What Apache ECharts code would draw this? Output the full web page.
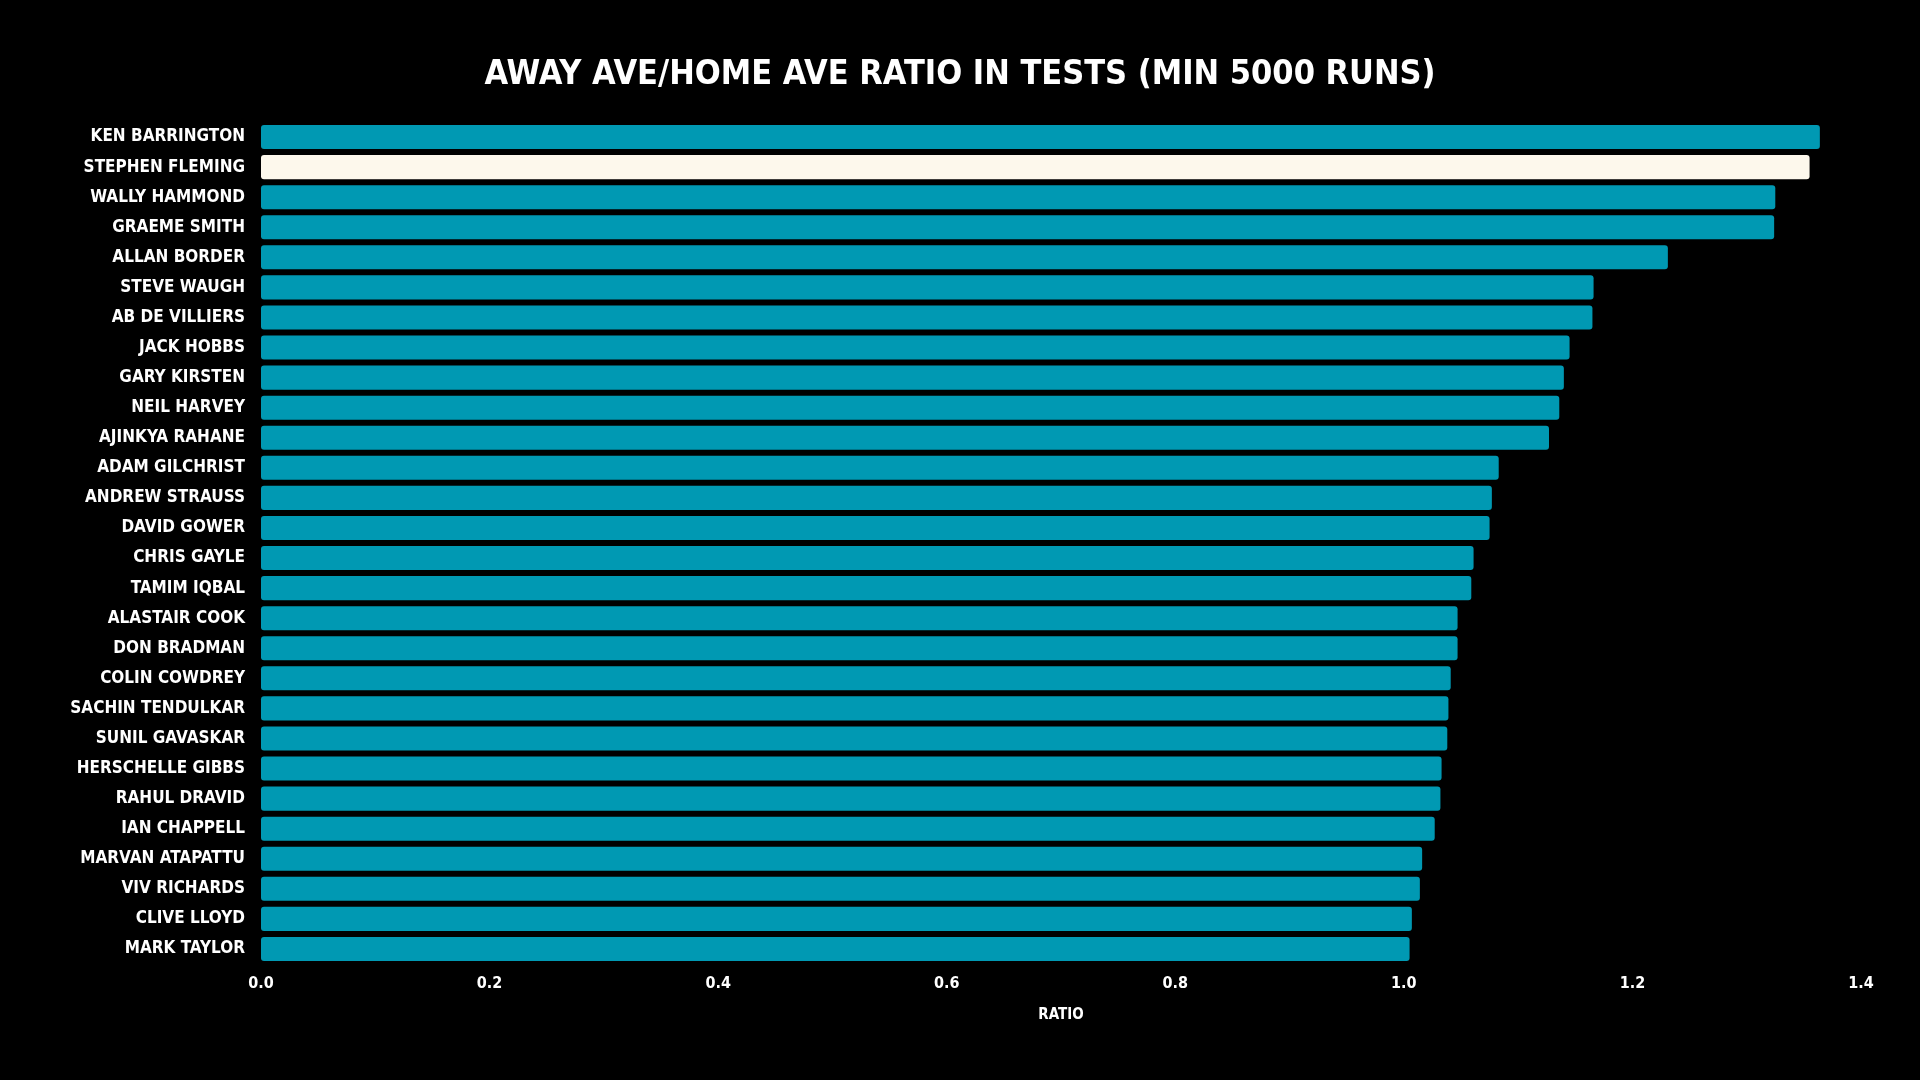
<!DOCTYPE html>
<html>
<head>
<meta charset="utf-8">
<title>Away/Home ratio</title>
<script src="https://cdn.jsdelivr.net/npm/echarts@6/dist/echarts.min.js"></script>
<style>
  html, body { margin: 0; padding: 0; background: #000; }
  #chart { width: 1920px; height: 1080px; }
</style>
</head>
<body>
<div id="chart"></div>
<script>
// players, top to bottom
const players = [
    'KEN BARRINGTON', 'STEPHEN FLEMING', 'WALLY HAMMOND', 'GRAEME SMITH', 'ALLAN BORDER',
    'STEVE WAUGH', 'AB DE VILLIERS', 'JACK HOBBS', 'GARY KIRSTEN', 'NEIL HARVEY',
    'AJINKYA RAHANE', 'ADAM GILCHRIST', 'ANDREW STRAUSS', 'DAVID GOWER', 'CHRIS GAYLE',
    'TAMIM IQBAL', 'ALASTAIR COOK', 'DON BRADMAN', 'COLIN COWDREY', 'SACHIN TENDULKAR',
    'SUNIL GAVASKAR', 'HERSCHELLE GIBBS', 'RAHUL DRAVID', 'IAN CHAPPELL', 'MARVAN ATAPATTU',
    'VIV RICHARDS', 'CLIVE LLOYD', 'MARK TAYLOR'
];
// away average / home average
const ratios = [
    1.364, 1.355, 1.325, 1.324, 1.231,
    1.166, 1.165, 1.145, 1.140, 1.136,
    1.127, 1.083, 1.077, 1.075, 1.061,
    1.059, 1.047, 1.047, 1.041, 1.039,
    1.038, 1.033, 1.032, 1.027, 1.016,
    1.014, 1.007, 1.005
];
const highlight = 'STEPHEN FLEMING';
const xTicks = [0, 1.4, 0.2]; // min, max, interval

const tealColor = '#0099b3';
const creamColor = '#fdf8ec';
const font = '"DejaVu Sans Condensed", "Liberation Sans Narrow", "Roboto", sans-serif';

var myChart = echarts.init(document.getElementById('chart'));

const options = {
    backgroundColor: '#000',
    animation: false,
    title: {
        text: 'AWAY AVE/HOME AVE RATIO IN TESTS (MIN 5000 RUNS)',
        left: 'center',
        top: 53,
        textStyle: {
            color: '#fff',
            fontFamily: font,
            fontWeight: 'bold',
            fontSize: 34,
        }
    },
    grid: {
        left: 261,
        right: 59,
        top: 122,
        bottom: 116,
    },
    xAxis: {
        type: 'value',
        min: xTicks[0],
        max: xTicks[1],
        interval: xTicks[2],
        name: 'RATIO',
        nameLocation: 'middle',
        nameGap: 44,
        nameTextStyle: {
            color: '#fff',
            fontFamily: font,
            fontWeight: 'bold',
            fontSize: 15,
        },
        axisLine: { show: false },
        axisTick: { show: false },
        splitLine: { show: false },
        axisLabel: {
            color: '#fff',
            fontFamily: font,
            fontWeight: 'bold',
            fontSize: 16,
            margin: 12,
            formatter: v => v.toFixed(1),
        }
    },
    yAxis: {
        type: 'category',
        inverse: true,
        data: players,
        axisLine: { show: false },
        axisTick: { show: false },
        axisLabel: {
            color: '#fff',
            fontFamily: font,
            fontWeight: 'bold',
            fontSize: 17,
            margin: 16,
        }
    },
    series: [
        {
            type: 'bar',
            barCategoryGap: '20%',
            data: ratios.map((v, i) => ({
                value: v,
                itemStyle: {
                    color: players[i] === highlight ? creamColor : tealColor,
                }
            })),
            itemStyle: {
                borderRadius: 3,
            }
        }
    ]
};

myChart.setOption(options);
</script>
</body>
</html>
